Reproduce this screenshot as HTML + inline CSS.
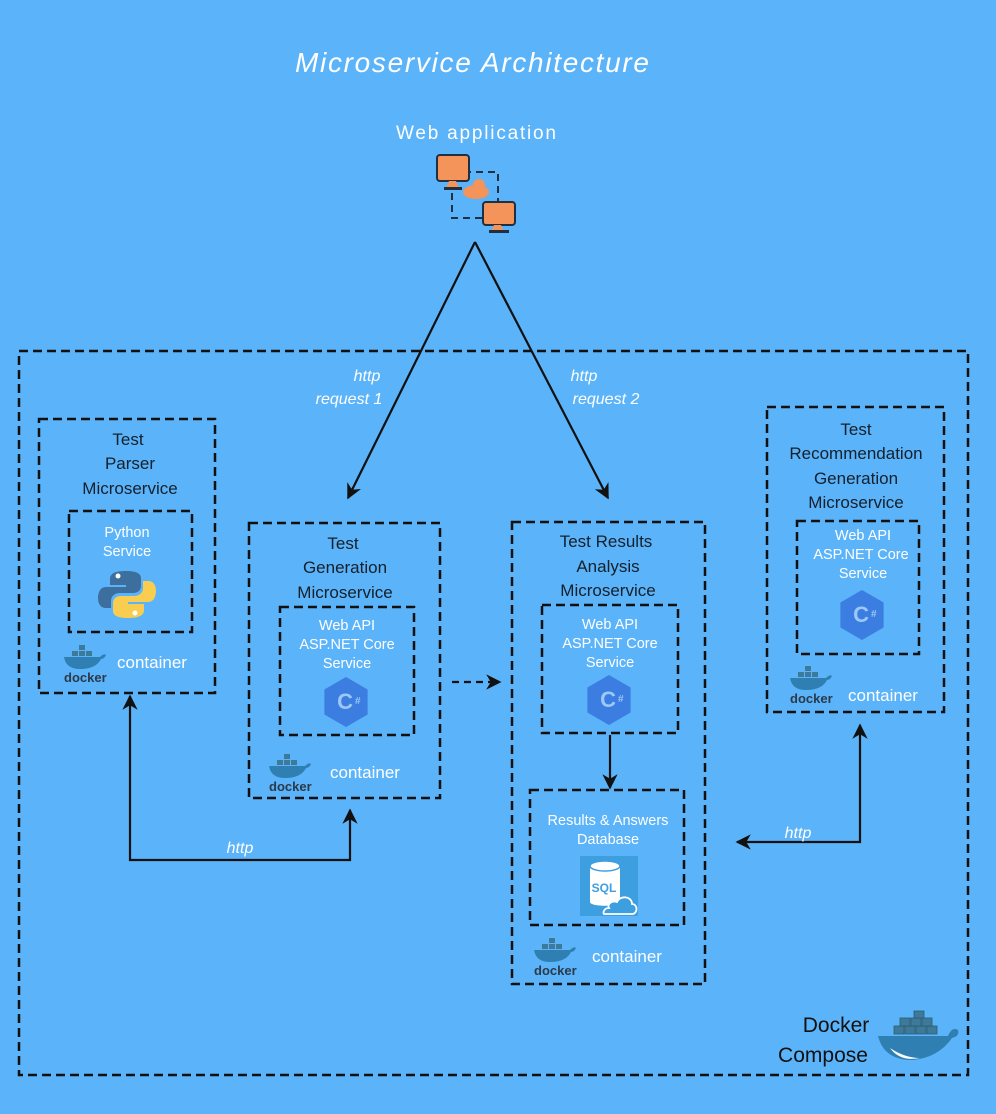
<!DOCTYPE html>
<html><head><meta charset="utf-8"><style>
html,body{margin:0;padding:0;background:#5bb3f9;}
svg{display:block;font-family:"Liberation Sans",sans-serif;}
.d{fill:none;stroke:#111;stroke-width:2.5;stroke-dasharray:9 5;}
.l{fill:#14202c;font-size:17px;text-anchor:middle;}
.w{fill:#fff;font-size:14.5px;text-anchor:middle;}
.c{fill:#fff;font-size:17px;}
.h{fill:#fff;font-size:16px;font-style:italic;text-anchor:middle;}
.dk{fill:#2b3a4a;font-size:13px;font-weight:bold;}
</style></head><body>
<svg width="996" height="1114" viewBox="0 0 996 1114">
<defs>
<marker id="a" viewBox="0 0 10 10" refX="9" refY="5" markerWidth="7" markerHeight="7" orient="auto-start-reverse"><path d="M0,0L10,5L0,10L3,5z" fill="#111"/></marker>
<g id="cs"><polygon points="0,-25 21.6,-12.5 21.6,12.5 0,25 -21.6,12.5 -21.6,-12.5" fill="#3b7de0"/><text x="-1" y="7" font-size="22" font-weight="bold" fill="#9cc8f8" text-anchor="middle">C</text><text x="9" y="2" font-size="10" font-weight="bold" fill="#9cc8f8">#</text></g>
<g id="dock"><rect x="-12" y="-16" width="6" height="5" fill="#3d7a9a"/><rect x="-5" y="-16" width="6" height="5" fill="#3d7a9a"/><rect x="-5" y="-22" width="6" height="5" fill="#3d7a9a"/><rect x="2" y="-16" width="6" height="5" fill="#3d7a9a"/><path d="M-20,-10 L16,-10 Q20,-14 22,-12 Q20,-8 17,-8 Q12,2 -4,2 Q-18,2 -20,-10z" fill="#2f7fb3"/><text x="-20" y="15" class="dk">docker</text></g>
</defs>
<text x="472" y="72" fill="#fff" font-size="28" font-style="italic" text-anchor="middle" textLength="354">Microservice Architecture</text>
<text x="476" y="139" fill="#fff" font-size="19" text-anchor="middle" textLength="160">Web application</text>
<!-- web app icon -->
<rect x="452" y="172" width="46" height="46" fill="none" stroke="#203040" stroke-width="2" stroke-dasharray="7 5"/>
<rect x="437" y="155" width="32" height="26" rx="3" fill="#f4935a" stroke="#203040" stroke-width="2"/>
<path d="M449,181l-3,7h13l-3,-7z" fill="#f4935a"/><rect x="444" y="187" width="18" height="3" fill="#203040"/>
<ellipse cx="476" cy="192" rx="13" ry="7" fill="#f4935a"/><circle cx="479" cy="185" r="6" fill="#f4935a"/>
<rect x="483" y="202" width="32" height="23" rx="3" fill="#f4935a" stroke="#203040" stroke-width="2"/>
<path d="M494,225l-3,6h13l-3,-6z" fill="#f4935a"/><rect x="489" y="230" width="20" height="3" fill="#203040"/>
<!-- boxes -->
<rect class="d" x="19" y="351" width="949" height="724"/>
<rect class="d" x="39" y="419" width="176" height="274"/>
<rect class="d" x="69" y="511" width="123" height="121"/>
<rect class="d" x="249" y="523" width="191" height="275"/>
<rect class="d" x="280" y="607" width="134" height="128"/>
<rect class="d" x="512" y="522" width="193" height="462"/>
<rect class="d" x="542" y="605" width="136" height="128"/>
<rect class="d" x="530" y="790" width="154" height="135"/>
<rect class="d" x="767" y="407" width="177" height="305"/>
<rect class="d" x="797" y="521" width="122" height="133"/>
<!-- arrows -->
<g stroke="#111" stroke-width="2.2" fill="none">
<line x1="475" y1="242" x2="348" y2="498" marker-end="url(#a)"/>
<line x1="475" y1="242" x2="608" y2="498" marker-end="url(#a)"/>
<line x1="452" y1="682" x2="500" y2="682" stroke-dasharray="7 5" marker-end="url(#a)"/>
<line x1="610" y1="735" x2="610" y2="788" marker-end="url(#a)"/>
<path d="M130,696V860H350V810" marker-start="url(#a)" marker-end="url(#a)"/>
<path d="M860,725V842H737" marker-start="url(#a)" marker-end="url(#a)"/>
</g>
<text class="h" x="367" y="381">http</text><text class="h" x="349" y="404">request 1</text>
<text class="h" x="584" y="381">http</text><text class="h" x="606" y="404">request 2</text>
<text class="h" x="240" y="853">http</text><text class="h" x="798" y="838">http</text>
<!-- parser -->
<text class="l" x="128" y="445">Test</text><text class="l" x="130" y="469">Parser</text><text class="l" x="130" y="494">Microservice</text>
<text class="w" x="127" y="537">Python</text><text class="w" x="127" y="556">Service</text>
<path d="M126,571c-10,0-16,2-16,8v6h16v2h-20c-6,0-8,6-8,11s2,10,8,10h5v-7c0-5,4-8,9-8h13c5,0,8-3,8-7v-8c0-5-6-7-15-7z" fill="#3d6f9e"/>
<path d="M128,618c10,0,16-2,16-8v-6h-16v-2h20c6,0,8-6,8-11s-2-10-8-10h-5v7c0,5-4,8-9,8h-13c-5,0-8,3-8,7v8c0,5,6,7,15,7z" fill="#f8cd50"/>
<circle cx="118" cy="576" r="2.5" fill="#fff"/><circle cx="135" cy="613" r="2.5" fill="#fff"/>
<use href="#dock" x="84" y="667"/><text class="c" x="117" y="668">container</text>
<!-- gen -->
<text class="l" x="343" y="549">Test</text><text class="l" x="345" y="573">Generation</text><text class="l" x="345" y="598">Microservice</text>
<text class="w" x="347" y="630">Web API</text><text class="w" x="347" y="649">ASP.NET Core</text><text class="w" x="347" y="668">Service</text>
<use href="#cs" x="346" y="702"/>
<use href="#dock" x="289" y="776"/><text class="c" x="330" y="778">container</text>
<!-- analysis -->
<text class="l" x="606" y="547">Test Results</text><text class="l" x="608" y="572">Analysis</text><text class="l" x="608" y="596">Microservice</text>
<text class="w" x="610" y="629">Web API</text><text class="w" x="610" y="648">ASP.NET Core</text><text class="w" x="610" y="667">Service</text>
<use href="#cs" x="609" y="700"/>
<text class="w" x="608" y="825">Results  &amp; Answers</text><text class="w" x="608" y="844">Database</text>
<rect x="580" y="856" width="58" height="60" fill="#3d9ee0"/>
<path d="M590,866v36c0,5,30,5,30,0v-36z" fill="#fff"/><ellipse cx="605" cy="866" rx="15" ry="5" fill="#fff" stroke="#3d9ee0" stroke-width="1.5"/>
<text x="604" y="892" font-size="12" font-weight="bold" fill="#3d9ee0" text-anchor="middle">SQL</text>
<path d="M604,914h28c6,0,6-10,0-10c0-8-12-9-15-2c-6-2-10,3-8,6c-6,0-6,6-5,6z" fill="#3d9ee0" stroke="#fff" stroke-width="1.8"/>
<use href="#dock" x="554" y="960"/><text class="c" x="592" y="962">container</text>
<!-- recommendation -->
<text class="l" x="856" y="435">Test</text><text class="l" x="856" y="459">Recommendation</text><text class="l" x="856" y="484">Generation</text><text class="l" x="856" y="508">Microservice</text>
<text class="w" x="863" y="540">Web API</text><text class="w" x="861" y="559">ASP.NET Core</text><text class="w" x="863" y="578">Service</text>
<use href="#cs" x="862" y="615"/>
<use href="#dock" x="810" y="688"/><text class="c" x="848" y="701">container</text>
<!-- compose -->
<text x="836" y="1032" font-size="21" fill="#111" text-anchor="middle">Docker</text>
<text x="823" y="1062" font-size="21" fill="#111" text-anchor="middle">Compose</text>
<g fill="#3d7a9a" stroke="#2d5a72" stroke-width="0.8">
<rect x="894" y="1026" width="10" height="8"/><rect x="905" y="1026" width="10" height="8"/><rect x="916" y="1026" width="10" height="8"/><rect x="927" y="1026" width="10" height="8"/>
<rect x="900" y="1018" width="10" height="8"/><rect x="911" y="1018" width="10" height="8"/><rect x="922" y="1018" width="10" height="8"/><rect x="914" y="1011" width="10" height="7"/>
</g>
<path d="M878,1036H948Q952,1026 958,1030Q960,1036 952,1038Q938,1058 912,1060Q884,1060 878,1036z" fill="#2f7fb3"/>
<path d="M890,1048Q905,1058 920,1058Q900,1062 890,1048z" fill="#fff"/>
</svg>
</body></html>
